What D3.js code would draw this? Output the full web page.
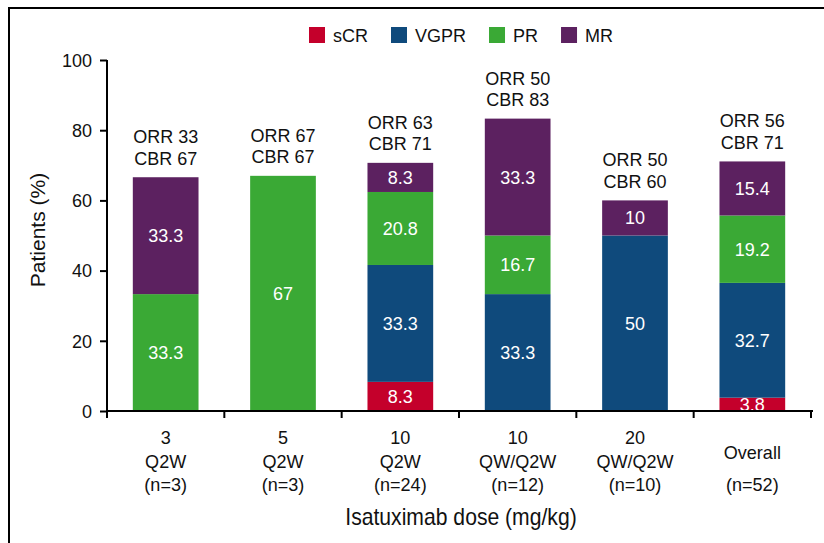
<!DOCTYPE html>
<html>
<head>
<meta charset="utf-8">
<script src="https://cdn.jsdelivr.net/npm/d3@7"></script>
<style>
  html, body { margin: 0; padding: 0; background: #fff; }
  svg { display: block; }
  text { font-family: "Liberation Sans", Arial, Helvetica, sans-serif; fill: #111; }
</style>
</head>
<body>
<svg id="chart" width="824" height="543"></svg>
<script>
// Dose groups (x axis), three text lines each
const doseLine1 = ["3", "5", "10", "10", "20", ""];
const doseLine2 = ["Q2W", "Q2W", "Q2W", "QW/Q2W", "QW/Q2W", "Overall"];
const doseLine3 = ["(n=3)", "(n=3)", "(n=24)", "(n=12)", "(n=10)", "(n=52)"];

// Response categories, stacked bottom to top
const responses = ["sCR", "VGPR", "PR", "MR"];
const responseColors = ["#c4002b", "#0f4a7c", "#3aa935", "#5c2160"];

// Percent of patients per response, one array per category
const sCR  = [0,    0,  8.3,  0,    0,  3.8];
const VGPR = [0,    0,  33.3, 33.3, 50, 32.7];
const PR   = [33.3, 67, 20.8, 16.7, 0,  19.2];
const MR   = [33.3, 0,  8.3,  33.3, 10, 15.4];

// Printed segment labels (as shown on the bars)
const sCRLabels  = ["", "", "8.3", "", "", "3.8"];
const VGPRLabels = ["", "", "33.3", "33.3", "50", "32.7"];
const PRLabels   = ["33.3", "67", "20.8", "16.7", "", "19.2"];
const MRLabels   = ["33.3", "", "8.3", "33.3", "10", "15.4"];

// Overall / clinical benefit rates above each bar
const orr = [33, 67, 63, 50, 50, 56];
const cbr = [67, 67, 71, 83, 60, 71];

const yTicks = [0, 20, 40, 60, 80, 100];

const svg = d3.select("#chart");

// Outer frame (left and top edges visible)
svg.append("rect")
  .attr("x", 9).attr("y", 8)
  .attr("width", 840).attr("height", 560)
  .attr("fill", "none").attr("stroke", "#000").attr("stroke-width", 2);

const x0 = 107, x1 = 811;
const x = d3.scaleBand()
  .domain(d3.range(doseLine2.length))
  .range([x0, x1])
  .paddingInner(0.44)
  .paddingOuter(0.22);

const y = d3.scaleLinear().domain([0, 100]).range([411, 60]);

const seriesArrays = [sCR, VGPR, PR, MR];
const labelArrays = [sCRLabels, VGPRLabels, PRLabels, MRLabels];

const rows = doseLine2.map((_, i) => {
  const r = { idx: i };
  responses.forEach((k, j) => { r[k] = seriesArrays[j][i]; });
  return r;
});

const stacked = d3.stack().keys(responses)(rows);

const layers = svg.append("g").selectAll("g")
  .data(stacked)
  .join("g")
  .attr("fill", (d, j) => responseColors[j]);

layers.selectAll("rect")
  .data(d => d.filter(s => s[1] - s[0] > 0))
  .join("rect")
  .attr("x", d => x(d.data.idx))
  .attr("width", x.bandwidth())
  .attr("y", d => y(d[1]))
  .attr("height", d => y(d[0]) - y(d[1]));

// Segment value labels
stacked.forEach((layer, j) => {
  svg.append("g").selectAll("text")
    .data(layer.filter(s => labelArrays[j][s.data.idx] !== ""))
    .join("text")
    .attr("x", d => x(d.data.idx) + x.bandwidth() / 2)
    .attr("y", d => (y(d[0]) + y(d[1])) / 2 + 6.5)
    .attr("text-anchor", "middle")
    .style("fill", "#fff")
    .style("font-size", "18px")
    .text(d => labelArrays[j][d.data.idx]);
});

// ORR / CBR labels above each bar
const totals = rows.map(r => d3.sum(responses, k => r[k]));
const topLabels = svg.append("g");
rows.forEach((r, i) => {
  const cx = x(i) + x.bandwidth() / 2;
  const top = y(totals[i]);
  topLabels.append("text")
    .attr("x", cx).attr("y", top - 34)
    .attr("text-anchor", "middle")
    .style("font-size", "18px")
    .text("ORR " + orr[i]);
  topLabels.append("text")
    .attr("x", cx).attr("y", top - 12.5)
    .attr("text-anchor", "middle")
    .style("font-size", "18px")
    .text("CBR " + cbr[i]);
});

// Y axis
const yAxis = svg.append("g")
  .attr("transform", `translate(${x0},0)`)
  .call(d3.axisLeft(y).tickValues(yTicks).tickSize(7).tickPadding(8));
yAxis.select(".domain").attr("stroke", "#000").attr("stroke-width", 2)
  .attr("d", `M0,${y(100)}V${y(0)}`);
yAxis.selectAll(".tick line").attr("stroke", "#000").attr("stroke-width", 2);
yAxis.selectAll(".tick text")
  .style("font-size", "18px")
  .style("font-family", "'Liberation Sans', Arial, sans-serif")
  .attr("fill", "#111")
  .attr("dy", "0.35em");

// X axis line with ticks at group boundaries
const xAxis = svg.append("g");
xAxis.append("line")
  .attr("x1", x0 - 1).attr("x2", x1 + 2)
  .attr("y1", y(0)).attr("y2", y(0))
  .attr("stroke", "#000").attr("stroke-width", 2);
const step = x.step();
const boundaries = d3.range(doseLine2.length + 1).map(i => x(0) - x.paddingOuter() * step + i * step);
xAxis.selectAll(".xtick")
  .data(boundaries)
  .join("line")
  .attr("x1", d => d).attr("x2", d => d)
  .attr("y1", y(0)).attr("y2", y(0) + 7)
  .attr("stroke", "#000").attr("stroke-width", 2);

// Category labels (slightly condensed)
const catG = svg.append("g");
doseLine2.forEach((_, i) => {
  const cx = x(i) + x.bandwidth() / 2;
  const lines = doseLine1[i] === ""
    ? [[doseLine2[i], 459], [doseLine3[i], 491]]
    : [[doseLine1[i], 444], [doseLine2[i], 468], [doseLine3[i], 491]];
  lines.forEach(([t, yy]) => {
    catG.append("text")
      .attr("transform", `translate(${cx},${yy}) scale(0.95,1)`)
      .attr("text-anchor", "middle")
      .style("font-size", "19px")
      .text(t);
  });
});

// Axis titles
svg.append("text")
  .attr("transform", "translate(461,525) scale(0.92,1)")
  .attr("text-anchor", "middle")
  .style("font-size", "23px")
  .text("Isatuximab dose (mg/kg)");

svg.append("text")
  .attr("transform", "translate(45,230) rotate(-90)")
  .attr("text-anchor", "middle")
  .style("font-size", "21px")
  .text("Patients (%)");

// Legend
const legend = svg.append("g");
let lx = 309;
responses.forEach((name, j) => {
  legend.append("rect")
    .attr("x", lx).attr("y", 27)
    .attr("width", 16).attr("height", 16)
    .attr("fill", responseColors[j]);
  const t = legend.append("text")
    .attr("x", lx + 24).attr("y", 42)
    .style("font-size", "18px")
    .text(name);
  lx += 24 + t.node().getComputedTextLength() + 23;
});
</script>
</body>
</html>
